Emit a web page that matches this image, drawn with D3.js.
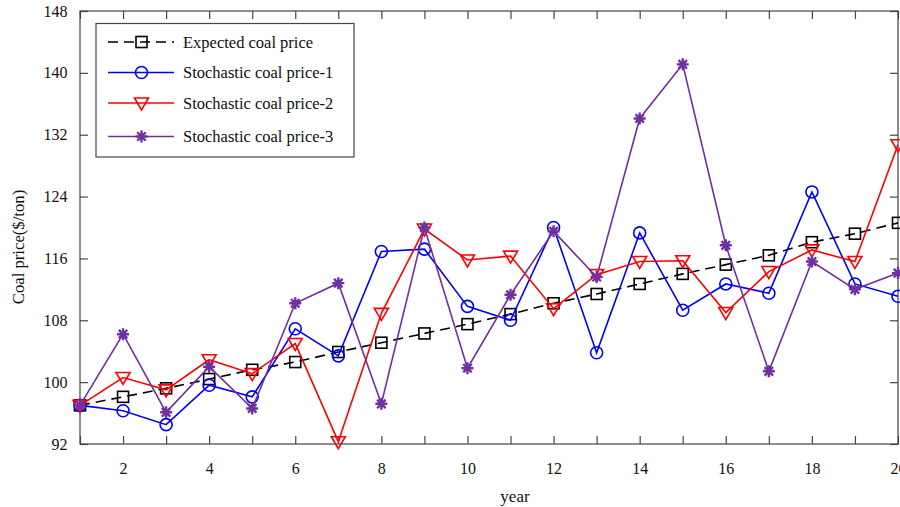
<!DOCTYPE html>
<html>
<head>
<meta charset="utf-8">
<script src="https://cdn.jsdelivr.net/npm/d3@7"></script>
<style>
  body { margin: 0; background: #fff; }
  svg { display: block; font-family: "Liberation Serif", "Times New Roman", serif; }
</style>
</head>
<body>
<svg id="chart" width="900" height="507"></svg>
<script>
// ---- data ----
const years = d3.range(1, 21);
const expected = [97.0, 98.1, 99.2, 100.4, 101.6, 102.6, 103.9, 105.1, 106.3, 107.5,
                  108.8, 110.2, 111.4, 112.7, 114.0, 115.2, 116.4, 118.1, 119.2, 120.6];
const stochastic1 = [97.0, 96.3, 94.5, 99.6, 98.1, 106.9, 103.4, 116.9, 117.2, 109.8,
                     108.0, 120.0, 103.8, 119.3, 109.3, 112.7, 111.5, 124.6, 112.7, 111.1];
const stochastic2 = [97.0, 100.6, 99.0, 102.9, 101.1, 105.0, 92.3, 108.9, 119.8, 115.8,
                     116.3, 109.5, 113.9, 115.6, 115.7, 109.0, 114.3, 117.1, 115.6, 130.7];
const stochastic3 = [97.0, 106.2, 96.1, 102.0, 96.6, 110.2, 112.8, 97.2, 120.0, 101.8,
                     111.3, 119.5, 113.6, 134.1, 141.1, 117.7, 101.4, 115.6, 112.0, 114.1];
const yTicks = [92, 100, 108, 116, 124, 132, 140, 148];
const xLabelTicks = [2, 4, 6, 8, 10, 12, 14, 16, 18, 20];

const series = [
  { name: 'Expected coal price', values: expected, color: '#000000', marker: 'square', dash: '10,6' },
  { name: 'Stochastic coal price-1', values: stochastic1, color: '#0000ff', marker: 'circle', dash: null },
  { name: 'Stochastic coal price-2', values: stochastic2, color: '#ff0000', marker: 'triangle', dash: null },
  { name: 'Stochastic coal price-3', values: stochastic3, color: '#7030a0', marker: 'star', dash: null }
];

// ---- layout ----
const margin = { top: 11, right: 2, bottom: 63, left: 80 };
const W = 900, H = 507;
const svg = d3.select('#chart');

const x = d3.scaleLinear().domain([1, 20]).range([margin.left, W - margin.right]);
const y = d3.scaleLinear().domain([92, 148]).range([H - margin.bottom, margin.top]);

const axisColor = '#444';
const tickLen = 8;

// frame
svg.append('rect')
  .attr('x', x(1)).attr('y', y(148))
  .attr('width', x(20) - x(1)).attr('height', y(92) - y(148))
  .attr('fill', 'none').attr('stroke', axisColor).attr('stroke-width', 1.2);

// axes (inward ticks)
const gx = svg.append('g').attr('transform', `translate(0,${y(92)})`)
  .call(d3.axisBottom(x).tickValues(years).tickSize(-tickLen).tickSizeOuter(0).tickFormat(d => xLabelTicks.includes(d) ? d : ''));
const gxTop = svg.append('g').attr('transform', `translate(0,${y(148)})`)
  .call(d3.axisTop(x).tickValues(years).tickSize(-tickLen).tickSizeOuter(0).tickFormat(''));
const gy = svg.append('g').attr('transform', `translate(${x(1)},0)`)
  .call(d3.axisLeft(y).tickValues(yTicks).tickSize(-tickLen).tickSizeOuter(0));
const gyRight = svg.append('g').attr('transform', `translate(${x(20)},0)`)
  .call(d3.axisRight(y).tickValues(yTicks).tickSize(-tickLen).tickSizeOuter(0).tickFormat(''));

[gx, gxTop, gy, gyRight].forEach(g => {
  g.select('.domain').remove();
  g.selectAll('line').attr('stroke', axisColor).attr('stroke-width', 1.2);
  g.selectAll('text').attr('fill', '#111').attr('font-size', 16).attr('font-family', '"Liberation Serif", serif');
});
gx.selectAll('text').attr('dy', '1.7em');
gy.selectAll('text').attr('dx', '-0.6em');

// axis titles
svg.append('text')
  .attr('x', 515).attr('y', 502)
  .attr('text-anchor', 'middle').attr('font-size', 17).attr('fill', '#111')
  .text('year');
svg.append('text')
  .attr('transform', 'translate(24,247) rotate(-90)')
  .attr('text-anchor', 'middle').attr('font-size', 16.7).attr('fill', '#111')
  .text('Coal price($/ton)');

// markers
function drawMarker(g, type, color) {
  if (type === 'square') {
    g.append('rect').attr('x', -5.5).attr('y', -5.5).attr('width', 11).attr('height', 11)
      .attr('fill', 'none').attr('stroke', color).attr('stroke-width', 1.6);
  } else if (type === 'circle') {
    g.append('circle').attr('r', 6)
      .attr('fill', 'none').attr('stroke', color).attr('stroke-width', 1.6);
  } else if (type === 'triangle') {
    g.append('path').attr('d', 'M-7,-5L7,-5L0,7Z')
      .attr('fill', 'none').attr('stroke', color).attr('stroke-width', 1.6);
  } else if (type === 'star') {
    const r = 6;
    let d = '';
    for (let i = 0; i < 4; i++) {
      const a = i * Math.PI / 4;
      d += `M${-r * Math.cos(a)},${-r * Math.sin(a)}L${r * Math.cos(a)},${r * Math.sin(a)}`;
    }
    g.append('path').attr('d', d).attr('stroke', color).attr('stroke-width', 2.4);
    g.append('circle').attr('r', 2.5).attr('fill', color);
  }
}

const line = d3.line().x((d, i) => x(years[i])).y(d => y(d));

series.forEach(s => {
  svg.append('path')
    .datum(s.values)
    .attr('d', line)
    .attr('fill', 'none')
    .attr('stroke', s.color)
    .attr('stroke-width', 1.6)
    .attr('stroke-dasharray', s.dash);
  svg.append('g').selectAll('g')
    .data(s.values)
    .join('g')
    .attr('transform', (d, i) => `translate(${x(years[i])},${y(d)})`)
    .each(function () { drawMarker(d3.select(this), s.marker, s.color); });
});

// legend
const legend = svg.append('g');
legend.append('rect')
  .attr('x', 96).attr('y', 23.5).attr('width', 258).attr('height', 133.5)
  .attr('fill', '#fff').attr('stroke', axisColor).attr('stroke-width', 1.2);
const legendY = [42, 72.5, 103, 136.5];
series.forEach((s, i) => {
  const ly = legendY[i];
  legend.append('line')
    .attr('x1', 108).attr('x2', 174).attr('y1', ly).attr('y2', ly)
    .attr('stroke', s.color).attr('stroke-width', 1.6)
    .attr('stroke-dasharray', s.dash);
  drawMarker(legend.append('g').attr('transform', `translate(141.5,${ly})`), s.marker, s.color);
  legend.append('text')
    .attr('x', 183).attr('y', ly).attr('dy', '0.35em')
    .attr('font-size', 16.5).attr('fill', '#111')
    .text(s.name);
});
</script>
</body>
</html>
